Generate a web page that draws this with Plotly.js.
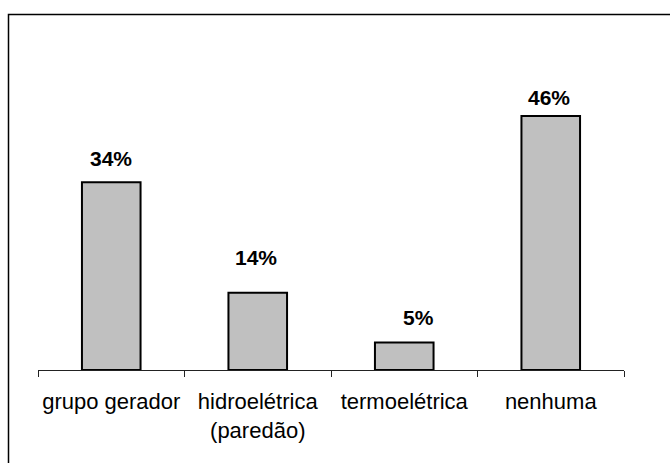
<!DOCTYPE html>
<html>
<head>
<meta charset="utf-8">
<script src="https://cdn.plot.ly/plotly-3.0.1.min.js"></script>
<style>
  html, body { margin: 0; padding: 0; background: #fff; }
  #chart { width: 670px; height: 463px; }
</style>
</head>
<body>
<div id="chart"></div>
<script>
const categories = ["grupo gerador", "hidroelétrica<br>(paredão)", "termoelétrica", "nenhuma"];
const values = [34, 14, 5, 46];
const valueLabels = ["34%", "14%", "5%", "46%"];

// label placement (style only)
const labelYShift = [24, 35, 25, 19];
const labelXShift = [0, -2, 14, -2];

const W = 670, H = 463;
const M = { l: 38, r: 46, t: 94, b: 93 };
const pw = W - M.l - M.r, ph = H - M.t - M.b;
const px2x = p => (p - M.l) / pw;
const py2y = p => (H - M.b - p) / ph;

const font = "'Liberation Sans', Arial, sans-serif";

const trace = {
  type: "bar",
  x: categories,
  y: values,
  marker: { color: "#c0c0c0", line: { color: "#000000", width: 2 } },
  hoverinfo: "none"
};

const annotations = categories.map((c, i) => ({
  x: c, y: values[i], xref: "x", yref: "y",
  text: "<b>" + valueLabels[i] + "</b>",
  showarrow: false, yanchor: "middle", xanchor: "center",
  yshift: labelYShift[i], xshift: labelXShift[i],
  font: { family: font, size: 21, color: "#000" }
}));

const layout = {
  width: W, height: H,
  margin: M,
  paper_bgcolor: "#fff", plot_bgcolor: "#fff",
  showlegend: false,
  bargap: 0.6,
  font: { family: font, size: 21, color: "#000" },
  xaxis: {
    type: "category",
    showline: true, linecolor: "#222", linewidth: 1,
    ticks: "outside", tickson: "boundaries", ticklen: 6, tickcolor: "#222", tickwidth: 1,
    showgrid: false, zeroline: false,
    tickangle: 0,
    ticklabelstandoff: 12,
    tickfont: { family: font, size: 22, color: "#000" }
  },
  yaxis: {
    range: [0, 50], visible: false, showgrid: false, zeroline: false, fixedrange: true
  },
  annotations: annotations,
  shapes: [{
    type: "rect", xref: "paper", yref: "paper",
    x0: px2x(8.5), x1: px2x(690), y0: py2y(490), y1: py2y(14.5),
    line: { color: "#000", width: 1.5 }, fillcolor: "rgba(0,0,0,0)", layer: "below"
  }]
};

Plotly.newPlot("chart", [trace], layout, { displayModeBar: false, staticPlot: true });
</script>
</body>
</html>
